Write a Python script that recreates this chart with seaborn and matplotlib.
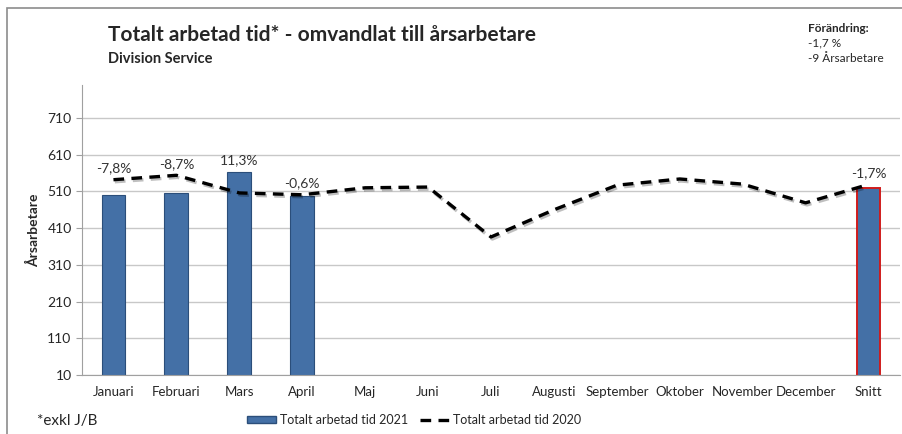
import matplotlib
matplotlib.use('agg')
from matplotlib import pyplot as plt
import matplotlib.patheffects as pe
from matplotlib.lines import Line2D
from matplotlib.patches import Patch, Rectangle
import seaborn as sns
import numpy as np
import pandas as pd

months = ['Januari', 'Februari', 'Mars', 'April', 'Maj', 'Juni', 'Juli', 'Augusti',
          'September', 'Oktober', 'November', 'December', 'Snitt']
tid_2021 = [500, 506, 563, 498, np.nan, np.nan, np.nan, np.nan, np.nan, np.nan, np.nan, np.nan, 520]
tid_2020 = [542, 554, 506, 501, 520, 522, 386, 460, 527, 544, 530, 479, 529]
change_labels = ['-7,8%', '-8,7%', '11,3%', '-0,6%', '', '', '', '', '', '', '', '', '-1,7%']
yticks = [10, 110, 210, 310, 410, 510, 610, 710]

sns.set_style('white')
plt.rcParams['font.family'] = ['Lato', 'DejaVu Sans']

fig = plt.figure(figsize=(9.03, 4.34), dpi=100)
ax = fig.add_axes([82 / 903, 1 - 375 / 434, 818 / 903, 290 / 434])

df = pd.DataFrame({'month': months, 'v2021': tid_2021, 'v2020': tid_2020})
sns.barplot(data=df, x='month', y='v2021', order=months, color='#4470a6',
            width=0.38, edgecolor='#2b4e7a', linewidth=0.8, ax=ax, saturation=1)
ax.patches[-1].set_edgecolor('#d01c1c')
ax.patches[-1].set_linewidth(1.4)

pos = np.arange(len(months))
sns.lineplot(x=pos, y=tid_2020, color='black', linewidth=2.4, ax=ax,
             dashes=False, linestyle=(0, (3.2, 2.2)),
             path_effects=[pe.SimpleLineShadow(offset=(1, -1.5), alpha=0.25), pe.Normal()])

for i, lab in enumerate(change_labels):
    if not lab:
        continue
    top = np.nanmax([tid_2021[i], tid_2020[i]])
    ax.annotate(lab, (i, top), xytext=(0, 4), textcoords='offset points',
                ha='center', va='bottom', fontsize=10, color='#333333')

ax.set_xlim(-0.5, len(months) - 0.5)
ax.set_ylim(10, 800)
ax.set_yticks(yticks)
ax.set_yticklabels([str(t) for t in yticks], fontsize=10)
ax.yaxis.grid(True, color='#c8c8c8', linewidth=1)
ax.set_axisbelow(True)
ax.set_xlabel('')
ax.set_ylabel('Årsarbetare', fontsize=10, fontweight='bold', labelpad=5)
ax.tick_params(axis='x', length=0, labelsize=9.5, pad=8)
ax.set_xticks(np.arange(-0.5, len(months) - 0.4, 1), minor=True)
ax.tick_params(axis='x', which='minor', length=4, color='#a0a0a0', direction='out')
ax.tick_params(axis='y', length=4, color='#a0a0a0', direction='out', left=True)
for side in ['top', 'right']:
    ax.spines[side].set_visible(False)
for side in ['left', 'bottom']:
    ax.spines[side].set_color('#a0a0a0')

# frame around the whole chart (right and bottom edges fall outside the image)
fig.patches.append(Rectangle((7 / 903, -0.1), 1.2, 1.1 - 8 / 434, transform=fig.transFigure,
                             fill=False, edgecolor='#8c8c8c', linewidth=1.2))

fig.text(108 / 903, 1 - 35 / 434, 'Totalt arbetad tid* - omvandlat till årsarbetare',
         fontsize=15, fontweight='bold', va='center')
fig.text(108 / 903, 1 - 59 / 434, 'Division Service', fontsize=10.5, fontweight='bold', va='center')
fig.text(808 / 903, 1 - 29 / 434, 'Förändring:', fontsize=8.5, fontweight='bold', va='center')
fig.text(808 / 903, 1 - 43 / 434, '-1,7 %', fontsize=8.5, va='center')
fig.text(808 / 903, 1 - 58 / 434, '-9 Årsarbetare', fontsize=8.5, va='center')
fig.text(37 / 903, 1 - 421 / 434, '*exkl J/B', fontsize=11, va='center')

handles = [Patch(facecolor='#4470a6', edgecolor='#2b4e7a'),
           Line2D([0], [0], color='black', linewidth=2.4, linestyle=(0, (3.2, 2.2)))]
leg = fig.legend(handles, ['Totalt arbetad tid 2021', 'Totalt arbetad tid 2020'],
                 loc='center', bbox_to_anchor=(414 / 903, 1 - 420 / 434), ncol=2, frameon=False,
                 fontsize=9, handlelength=2.3, handleheight=0.5, columnspacing=1.0,
                 handletextpad=0.3)

fig.savefig('out.png', dpi=100)
plt.close(fig)
